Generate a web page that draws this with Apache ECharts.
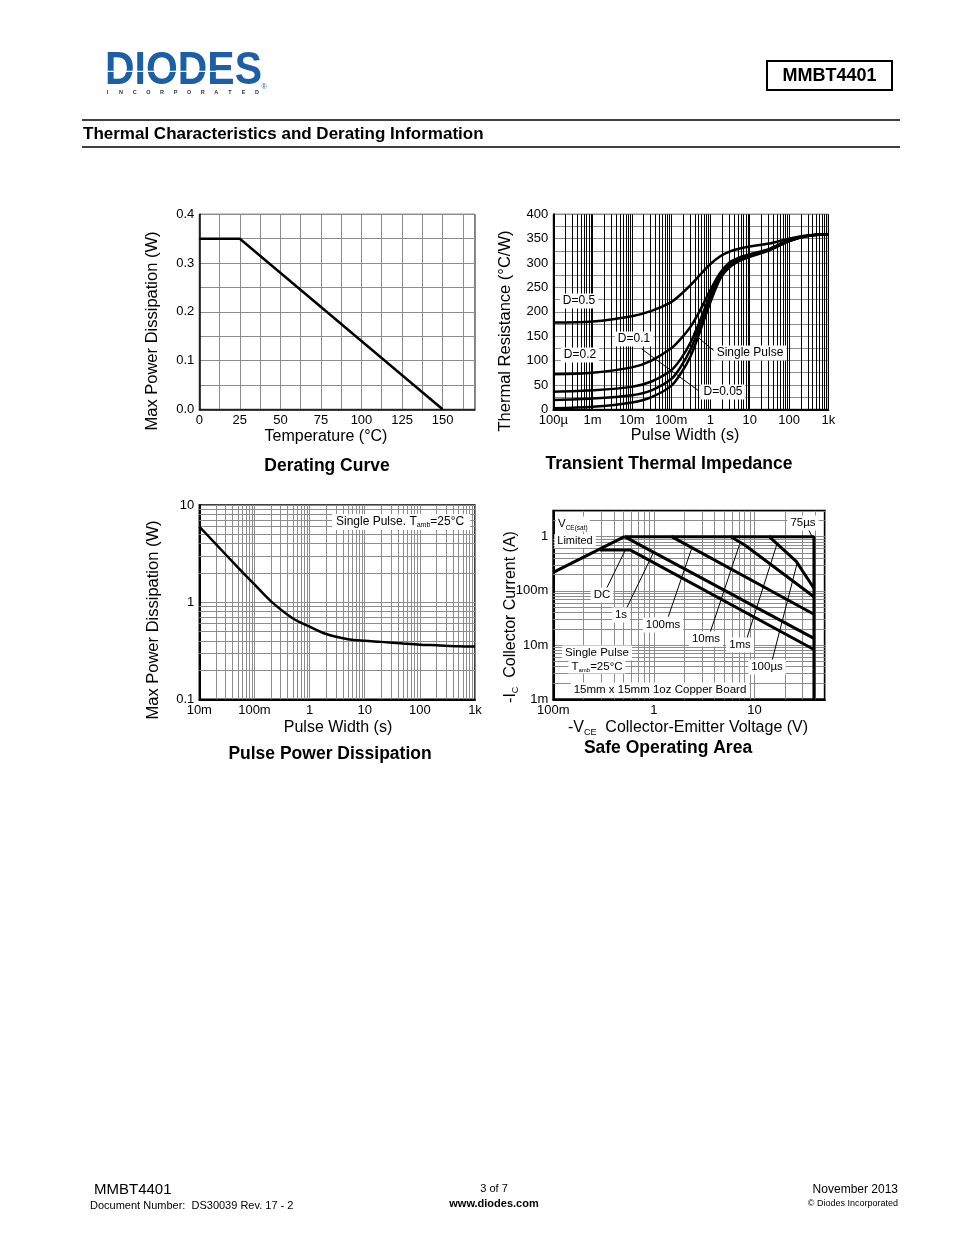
<!DOCTYPE html>
<html><head><meta charset="utf-8">
<script src="https://cdn.jsdelivr.net/npm/echarts@6/dist/echarts.min.js"></script>
<style>html,body{margin:0;padding:0;background:#fff}#c{width:954px;height:1235px}</style>
</head><body><div id="c"></div>
<script>
// ---------- Derating curve ----------
const derTemp = [0, 25, 150];
const derPower = [0.35, 0.35, 0];
const derXTicks = [0, 25, 50, 75, 100, 125, 150];
const derYTicks = ['0.0', '0.1', '0.2', '0.3', '0.4'];

// ---------- Transient thermal impedance ----------
const ztPulse = [1e-4, 1e-3, 1e-2, 0.0316, 0.1, 0.178, 0.316, 0.562, 1, 1.78, 3.16, 5.62, 10, 31.6, 100, 316, 1000];
const ztD05 = [178, 180, 191, 202, 220, 236, 255, 277, 298, 314, 324, 330, 334, 340, 350, 357, 359];
const ztD02 = [72, 75, 86, 100, 125, 145, 170, 205, 245, 280, 302, 312, 318, 329, 347, 356, 359];
const ztD01 = [36, 39, 46, 57, 80, 104, 138, 185, 235, 276, 298, 309, 316, 328, 346, 356, 359];
const ztD005 = [19, 22, 29, 39, 62, 88, 124, 175, 228, 272, 295, 307, 315, 327, 345, 356, 359];
const ztSingle = [2, 5, 14, 25, 48, 74, 110, 163, 220, 268, 292, 305, 313, 326, 345, 356, 359];
const ztXTickLabels = ['100µ', '1m', '10m', '100m', '1', '10', '100', '1k'];
const ztLeaderD01 = [[0.0178, 123.7], [0.51, 37.5]];
const ztLeaderSingle = [[0.366, 155.9], [1.38, 116.5]];

// ---------- Pulse power dissipation ----------
const ppPulse = [0.01, 0.02, 0.05, 0.1, 0.2, 0.5, 1, 2, 5, 10, 20, 50, 100, 200, 500, 1000];
const ppPower = [6.0, 3.96, 2.28, 1.52, 1.02, 0.68, 0.56, 0.47, 0.415, 0.40, 0.39, 0.375, 0.365, 0.36, 0.352, 0.35];
const ppXTickLabels = ['10m', '100m', '1', '10', '100', '1k'];
const ppYTickLabels = ['0.1', '1', '10'];

// ---------- Safe operating area ----------
const soaVsat = [[0.1, 0.22], [0.51, 1]];
const soaDC = [[0.29, 0.57], [0.58, 0.57], [39, 0.0083]];
const soa1s = [[0.51, 1], [39, 0.0133]];
const soa100ms = [[0.51, 1], [1.5, 1], [39, 0.037]];
const soa10ms = [[1.5, 1], [5.8, 1], [8, 0.7], [39, 0.078]];
const soa1ms = [[5.8, 1], [14, 1], [26, 0.35], [39, 0.112]];
const soa75us = [[14, 1], [39, 1], [39, 0.001]];
const soaLeaders = [
  [[0.339, 0.112], [0.515, 0.545]],
  [[0.535, 0.048], [1.0, 0.53]],
  [[1.39, 0.0334], [2.37, 0.6]],
  [[3.6, 0.0165], [7.1, 0.72]],
  [[8.3, 0.0124], [16.6, 0.7]],
  [[15, 0.0053], [26.5, 0.32]],
  [[33.3, 1.53], [37.4, 1.0]]
];
const soaXTickLabels = ['100m', '1', '10'];
const soaYTickLabels = ['1m', '10m', '100m', '1'];

const FONT = "'Liberation Sans', Arial, Helvetica, sans-serif";
const chart = echarts.init(document.getElementById('c'));

function logFmt(labels, firstExp) {
  return function (v) {
    const l = Math.log10(v), r = Math.round(l);
    if (Math.abs(l - r) > 1e-6) return '';
    const s = labels[r - firstExp];
    return s === undefined ? '' : s;
  };
}
function minors(k0, k1, maxV) {
  const out = [];
  for (let k = k0; k <= k1; k++) for (let m = 2; m <= 9; m++) {
    const v = m * Math.pow(10, k);
    if (v < maxV * 0.999) out.push(v);
  }
  return out;
}
function gridLineSeries(idx, vertical, values, lo, hi, color) {
  return {
    type: 'line', xAxisIndex: idx, yAxisIndex: idx, data: [], z: 1, silent: true, animation: false,
    markLine: {
      z: 1, silent: true, animation: false, symbol: ['none', 'none'], label: {show: false},
      emphasis: {disabled: true},
      lineStyle: {color: color, width: 1, type: 'solid'},
      data: values.map(v => vertical ? [{coord: [v, lo]}, {coord: [v, hi]}] : [{coord: [lo, v]}, {coord: [hi, v]}])
    }
  };
}
function curve(idx, data, w, smooth) {
  return {
    type: 'line', xAxisIndex: idx, yAxisIndex: idx, data: data, z: 6, symbol: 'none', showSymbol: false,
    smooth: smooth || false, silent: true, animation: false,
    lineStyle: {color: '#000', width: w}
  };
}
function pairs(xs, ys) { return xs.map((x, i) => [x, ys[i]]); }

const lab = {color: '#000', fontSize: 13, fontFamily: FONT, margin: 5, showMinLabel: true, showMaxLabel: true};
const gray = '#8c8c8c';
const noTick = {show: false};

const xAxis = [
  {gridIndex: 0, type: 'value', min: 0, max: 170, interval: 12.5,
   axisLine: {show: true, lineStyle: {color: '#000', width: 1.5}}, axisTick: noTick,
   splitLine: {show: true, lineStyle: {color: gray, width: 1}},
   axisLabel: Object.assign({}, lab, {formatter: v => derXTicks.includes(v) ? String(v) : ''})},
  {gridIndex: 1, type: 'log', logBase: 10, min: 1e-4, max: 1000,
   axisLine: {show: true, lineStyle: {color: '#000', width: 2}}, axisTick: noTick,
   splitLine: {show: true, lineStyle: {color: '#000', width: 1}},
   axisLabel: Object.assign({}, lab, {formatter: logFmt(ztXTickLabels, -4)})},
  {gridIndex: 2, type: 'log', logBase: 10, min: 0.01, max: 1000,
   axisLine: {show: true, lineStyle: {color: '#000', width: 2}}, axisTick: noTick,
   splitLine: {show: true, lineStyle: {color: gray, width: 1}},
   axisLabel: Object.assign({}, lab, {formatter: logFmt(ppXTickLabels, -2)})},
  {gridIndex: 3, type: 'log', logBase: 10, min: 0.1, max: 50,
   axisLine: {show: true, lineStyle: {color: '#000', width: 2}}, axisTick: noTick,
   splitLine: {show: true, lineStyle: {color: gray, width: 1}},
   axisLabel: Object.assign({}, lab, {formatter: logFmt(soaXTickLabels, -1)})}
];
const yAxis = [
  {gridIndex: 0, type: 'value', min: 0, max: 0.4, interval: 0.05,
   axisLine: {show: true, lineStyle: {color: '#000', width: 1.5}}, axisTick: noTick,
   splitLine: {show: true, lineStyle: {color: gray, width: 1}},
   axisLabel: Object.assign({}, lab, {formatter: v => { const t = Math.round(v * 10); return Math.abs(v * 10 - t) < 1e-6 ? derYTicks[t] : ''; }})},
  {gridIndex: 1, type: 'value', min: 0, max: 400, interval: 25,
   axisLine: {show: true, lineStyle: {color: '#000', width: 2}}, axisTick: noTick,
   splitLine: {show: true, lineStyle: {color: gray, width: 1}},
   axisLabel: Object.assign({}, lab, {formatter: v => (Math.round(v) % 50 === 0) ? String(Math.round(v)) : ''})},
  {gridIndex: 2, type: 'log', logBase: 10, min: 0.1, max: 10,
   axisLine: {show: true, lineStyle: {color: '#000', width: 2}}, axisTick: noTick,
   splitLine: {show: true, lineStyle: {color: gray, width: 1}},
   axisLabel: Object.assign({}, lab, {formatter: logFmt(ppYTickLabels, -1)})},
  {gridIndex: 3, type: 'log', logBase: 10, min: 0.001, max: 3,
   axisLine: {show: true, lineStyle: {color: '#000', width: 2}}, axisTick: noTick,
   splitLine: {show: true, lineStyle: {color: gray, width: 1}},
   axisLabel: Object.assign({}, lab, {formatter: logFmt(soaYTickLabels, -3)})}
];

const series = [
  // grids (minor log lines)
  gridLineSeries(1, true, minors(-4, 2, 1000), 0, 400, '#000'),
  gridLineSeries(2, true, minors(-2, 2, 1000), 0.1, 10, gray),
  gridLineSeries(2, false, minors(-1, 0, 10), 0.01, 1000, gray),
  gridLineSeries(3, true, minors(-1, 1, 50), 0.001, 3, gray),
  gridLineSeries(3, false, minors(-3, 0, 3), 0.1, 50, gray),
  // derating
  curve(0, pairs(derTemp, derPower), 2.5),
  // transient thermal
  curve(1, pairs(ztPulse, ztD05), 2.5, 0.3),
  curve(1, pairs(ztPulse, ztD02), 2.5, 0.3),
  curve(1, pairs(ztPulse, ztD01), 2.5, 0.3),
  curve(1, pairs(ztPulse, ztD005), 2.5, 0.3),
  curve(1, pairs(ztPulse, ztSingle), 2.5, 0.3),
  curve(1, ztLeaderD01, 1),
  curve(1, ztLeaderSingle, 1),
  // pulse power
  curve(2, pairs(ppPulse, ppPower), 2.5, 0.3),
  // SOA
  curve(3, soaVsat, 3), curve(3, soaDC, 3), curve(3, soa1s, 3), curve(3, soa100ms, 3),
  curve(3, soa10ms, 3), curve(3, soa1ms, 3), curve(3, soa75us, 3)
].concat(soaLeaders.map(l => curve(3, l, 1)));

function txt(x, y, text, size, opt) {
  opt = opt || {};
  return {
    type: 'text', x: x, y: y, z: 100, rotation: opt.rotation || 0, silent: true,
    scaleX: opt.scaleX || 1,
    style: Object.assign({
      text: text, fontSize: size, fontFamily: FONT, fill: opt.color || '#000',
      fontWeight: opt.bold ? 'bold' : 'normal', align: opt.align || 'center', verticalAlign: 'middle'
    }, opt.style || {})
  };
}
function boxTxt(x, y, text, size, opt) {
  opt = opt || {};
  opt.style = Object.assign({backgroundColor: '#fff', padding: [2, 3, 1, 3]}, opt.style || {});
  return txt(x, y, text, size, opt);
}
const subRich = (s) => ({
  m: {fontSize: s, fontFamily: FONT, fill: '#000'},
  s: {fontSize: Math.round(s * 0.55), fontFamily: FONT, fill: '#000', padding: [Math.round(s * 0.6), 0, 0, 0]}
});

const graphic = [];
// header
graphic.push({type: 'text', x: 105, y: 71.5, scaleX: 0.89, z: 100, silent: true,
  style: {text: 'DIODES', fontSize: 46, fontWeight: 'bold', fontFamily: FONT, fill: '#1d5fa6', align: 'left', verticalAlign: 'middle'}});
graphic.push({type: 'rect', z: 101, silent: true, shape: {x: 105, y: 70.8, width: 138, height: 1.2}, style: {fill: '#fff'}});
'INCORPORATED'.split('').forEach((ch, i) => graphic.push(txt(107.5 + i * 13.6, 92.5, ch, 5.5, {bold: true, color: '#333'})));
graphic.push(txt(264, 87, '®', 7, {color: '#1d5fa6'}));
graphic.push({type: 'rect', z: 100, silent: true, shape: {x: 767, y: 61, width: 125, height: 29}, style: {fill: 'none', stroke: '#000', lineWidth: 2}});
graphic.push(txt(829.5, 76, 'MMBT4401', 18, {bold: true}));
graphic.push({type: 'line', z: 100, silent: true, shape: {x1: 82, y1: 120, x2: 900, y2: 120}, style: {stroke: '#000', lineWidth: 1.5}});
graphic.push({type: 'line', z: 100, silent: true, shape: {x1: 82, y1: 147, x2: 900, y2: 147}, style: {stroke: '#000', lineWidth: 1.5}});
graphic.push(txt(83, 134, 'Thermal Characteristics and Derating Information', 17, {bold: true, align: 'left'}));

// chart 1 texts
graphic.push(txt(152, 331, 'Max Power Dissipation (W)', 16.5, {rotation: Math.PI / 2}));
graphic.push(txt(326, 437, 'Temperature (°C)', 16));
graphic.push(txt(327, 466, 'Derating Curve', 17.5, {bold: true}));
// chart 2 texts
graphic.push(txt(505, 331, 'Thermal Resistance (°C/W)', 16.5, {rotation: Math.PI / 2}));
graphic.push(txt(685, 436, 'Pulse Width (s)', 16));
graphic.push(txt(669, 464, 'Transient Thermal Impedance', 17.5, {bold: true}));
graphic.push(boxTxt(579, 301, 'D=0.5', 12));
graphic.push(boxTxt(580, 355, 'D=0.2', 12));
graphic.push(boxTxt(634, 339, 'D=0.1', 12));
graphic.push(boxTxt(750, 353, 'Single Pulse', 12));
graphic.push(boxTxt(723, 392, 'D=0.05', 12));
// chart 3 texts
graphic.push(txt(153, 620, 'Max Power Dissipation (W)', 16.5, {rotation: Math.PI / 2}));
graphic.push(txt(338, 728, 'Pulse Width (s)', 16));
graphic.push(txt(330, 754, 'Pulse Power Dissipation', 17.5, {bold: true}));
graphic.push(txt(332, 522, '{m|Single Pulse. T}{s|amb}{m|=25°C}', 12, {align: 'left',
  style: {rich: subRich(12), backgroundColor: '#fff', padding: [1, 6, 1, 4]}}));
// chart 4 texts
graphic.push(txt(511, 617, '{m|-I}{s|C}{m|  Collector Current (A)}', 16, {rotation: Math.PI / 2, style: {rich: subRich(16)}}));
graphic.push(txt(688, 728, '{m|-V}{s|CE}{m|  Collector-Emitter Voltage (V)}', 16, {style: {rich: subRich(16)}}));
graphic.push(txt(668, 748, 'Safe Operating Area', 17.5, {bold: true}));
graphic.push(boxTxt(602, 595, 'DC', 11.5));
graphic.push(boxTxt(621, 615, '1s', 11.5));
graphic.push(boxTxt(663, 625, '100ms', 11.5));
graphic.push(boxTxt(706, 639, '10ms', 11.5));
graphic.push(boxTxt(740, 645, '1ms', 11.5));
graphic.push(boxTxt(767, 667, '100µs', 11.5));
graphic.push(boxTxt(803, 523, '75µs', 11.5));
graphic.push(txt(556, 524, '{m|V}{s|CE(sat)}', 11.5, {align: 'left', style: {rich: {m: {fontSize: 11.5, fontFamily: FONT, fill: '#000'}, s: {fontSize: 6.5, fontFamily: FONT, fill: '#000', padding: [8, 0, 0, 0]}}, backgroundColor: '#fff', padding: [0, 2, 0, 2]}}));
graphic.push(boxTxt(575, 541, 'Limited', 11));
graphic.push(boxTxt(597, 653, 'Single Pulse', 11.5));
graphic.push(txt(597, 667, '{m|T}{s|amb}{m|=25°C}', 11.5, {style: {rich: subRich(11.5), backgroundColor: '#fff', padding: [0, 3, 0, 3]}}));
graphic.push(boxTxt(660, 690, '15mm x 15mm 1oz Copper Board', 11.5));

// footer
graphic.push(txt(94, 1190, 'MMBT4401', 15, {align: 'left'}));
graphic.push(txt(90, 1205.5, 'Document Number:  DS30039 Rev. 17 - 2', 11, {align: 'left'}));
graphic.push(txt(494, 1189, '3 of 7', 11));
graphic.push(txt(494, 1204, 'www.diodes.com', 11, {bold: true}));
graphic.push(txt(898, 1190, 'November 2013', 12, {align: 'right'}));
graphic.push(txt(898, 1204, '© Diodes Incorporated', 9, {align: 'right'}));

chart.setOption({
  animation: false,
  backgroundColor: '#fff',
  grid: [
    {left: 199.3, top: 214.3, width: 275.7, height: 195, show: true, borderColor: '#000', borderWidth: 1},
    {left: 553.3, top: 214.3, width: 275, height: 195, show: true, borderColor: '#000', borderWidth: 1},
    {left: 199.3, top: 505, width: 275.7, height: 194.3, show: true, borderColor: '#000', borderWidth: 1.5},
    {left: 553.3, top: 510.8, width: 271.5, height: 188.5, show: true, borderColor: '#000', borderWidth: 2}
  ],
  xAxis: xAxis,
  yAxis: yAxis,
  series: series,
  graphic: graphic
});
</script></body></html>
